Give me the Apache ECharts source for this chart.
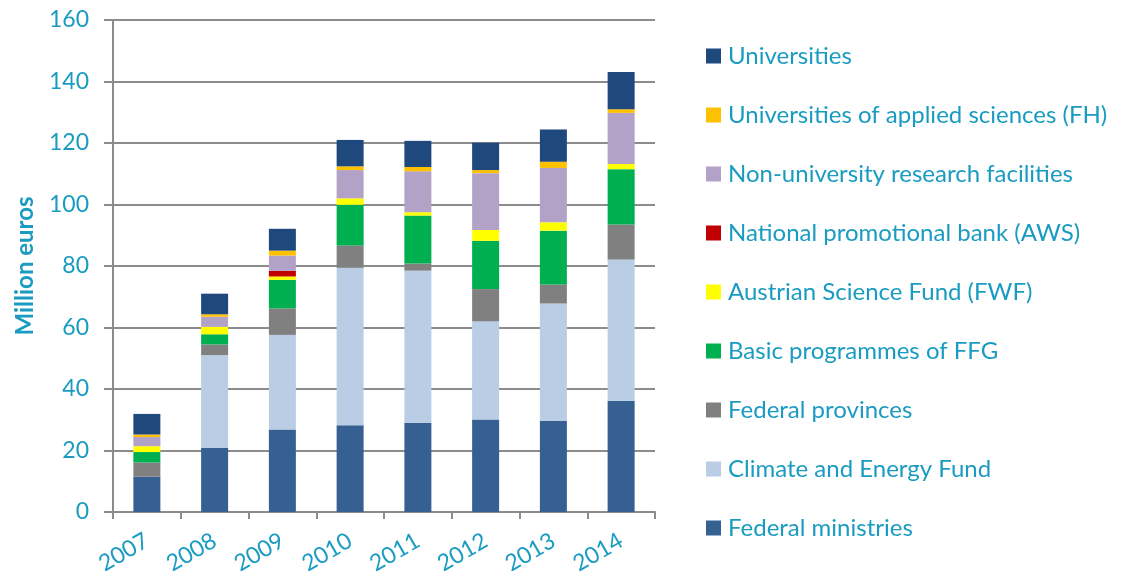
<!DOCTYPE html>
<html>
<head>
<meta charset="utf-8">
<script src="https://cdn.jsdelivr.net/npm/echarts@6/dist/echarts.min.js"></script>
<style>
  html, body { margin: 0; padding: 0; background: #fff; }
  #main { width: 1121px; height: 571px; }
</style>
</head>
<body>
<div id="main"></div>
<script>
var years = ['2007', '2008', '2009', '2010', '2011', '2012', '2013', '2014'];

// stacked from the bottom up
var federalMinistries = [11.5, 20.9, 26.8, 28.2, 29.0, 30.1, 29.6, 36.2];
var climateFund       = [0,    30.1, 30.8, 51.2, 49.5, 31.9, 38.2, 45.9];
var federalProvinces  = [4.6,  3.5,  8.6,  7.3,  2.3,  10.5, 6.2,  11.4];
var ffgProgrammes     = [3.4,  3.3,  9.3,  13.2, 15.6, 15.7, 17.5, 18.0];
var fwf               = [1.9,  2.4,  1.1,  2.1,  1.1,  3.5,  2.7,  1.7];
var aws               = [0,    0,    1.8,  0,    0,    0,    0,    0];
var nonUniversity     = [3.0,  3.3,  5.0,  9.2,  13.3, 18.5, 17.7, 16.6];
var fh                = [0.8,  0.8,  1.6,  1.2,  1.4,  1.0,  2.0,  1.2];
var universities      = [6.7,  6.7,  7.1,  8.6,  8.5,  8.9,  10.5, 12.1];

var yTicks = [0, 20, 40, 60, 80, 100, 120, 140, 160];

var teal = '#1a9bc1';
var gridGray = '#8c8c8c';
var font = 'Lato';

var seriesDefs = [
  ['Federal ministries', federalMinistries, '#376092'],
  ['Climate and Energy Fund', climateFund, '#b9cde5'],
  ['Federal provinces', federalProvinces, '#808080'],
  ['Basic programmes of FFG', ffgProgrammes, '#00b050'],
  ['Austrian Science Fund (FWF)', fwf, '#ffff00'],
  ['National promotional bank (AWS)', aws, '#c00000'],
  ['Non-university research facilities', nonUniversity, '#b2a2c7'],
  ['Universities of applied sciences (FH)', fh, '#ffc000'],
  ['Universities', universities, '#1f497d']
];

var chart = echarts.init(document.getElementById('main'));

var series = seriesDefs.map(function (d) {
  return {
    name: d[0],
    type: 'bar',
    stack: 'total',
    barWidth: 27,
    data: d[1],
    itemStyle: { color: d[2] }
  };
});

var option = {
  animation: false,
  grid: { left: 113, right: 466, top: 20, bottom: 59, containLabel: false, outerBoundsMode: 'none' },
  legend: {
    orient: 'vertical',
    left: 706,
    top: 44,
    padding: 0,
    icon: 'rect',
    itemWidth: 15,
    itemHeight: 15,
    itemGap: 35,
    data: seriesDefs.map(function (d) { return d[0]; }).reverse(),
    textStyle: { color: teal, fontSize: 24, fontFamily: font, lineHeight: 24, padding: [0, 0, 0, 2] }
  },
  xAxis: {
    type: 'category',
    data: years,
    axisLine: { lineStyle: { color: gridGray, width: 2 } },
    axisTick: { show: true, length: 7, lineStyle: { color: gridGray, width: 2 } },
    axisLabel: { color: teal, fontSize: 23, fontFamily: font, rotate: 30, margin: 27 }
  },
  yAxis: {
    type: 'value',
    min: yTicks[0],
    max: yTicks[yTicks.length - 1],
    interval: 20,
    name: 'Million euros',
    nameLocation: 'middle',
    nameGap: 76,
    nameTextStyle: { color: teal, fontSize: 24, fontWeight: 'bold', fontFamily: font },
    axisLine: { show: true, lineStyle: { color: gridGray, width: 2 } },
    axisTick: { show: true, length: 9, lineStyle: { color: gridGray, width: 2 } },
    axisLabel: { color: teal, fontSize: 23, fontFamily: font, margin: 24 },
    splitLine: { lineStyle: { color: gridGray, width: 2 } }
  },
  series: series
};

chart.setOption(option);
</script>
</body>
</html>
